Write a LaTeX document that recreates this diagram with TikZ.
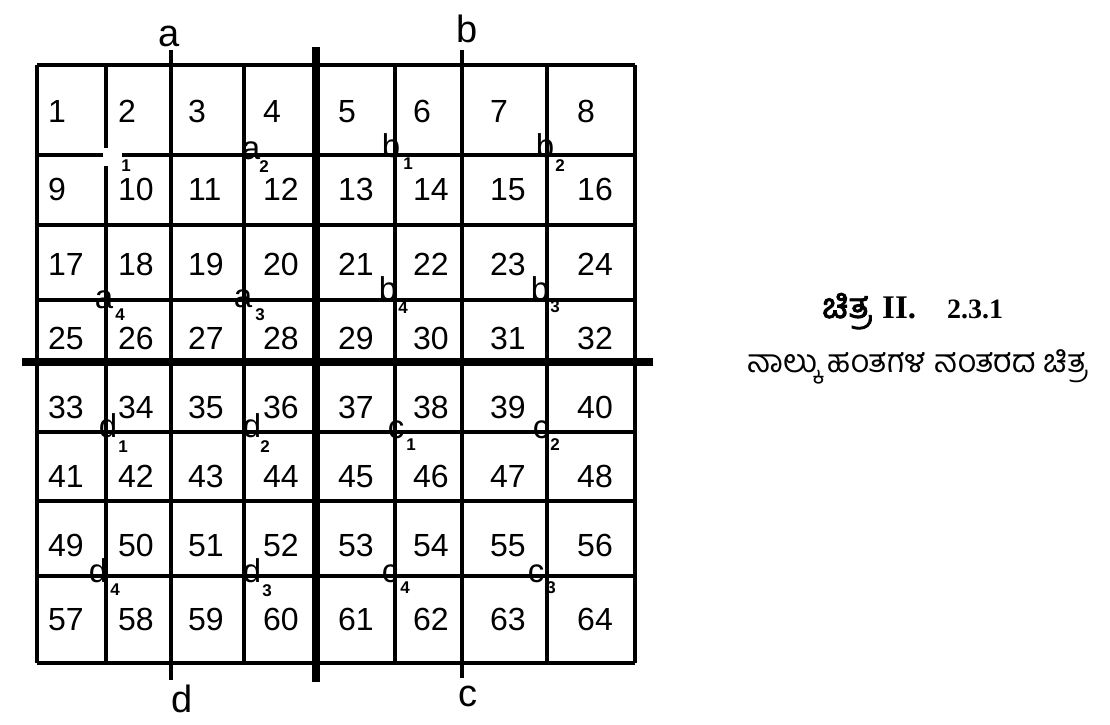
\documentclass[tikz,border=0pt]{standalone}
\usepackage{fontspec}
\setmainfont{Liberation Sans}
\newfontfamily\kn[Script=Kannada]{Hind Mysuru}
\newfontfamily\knb[Script=Kannada,FakeBold=2.5]{Hind Mysuru}
\newfontfamily\serifb{Liberation Serif}
\begin{document}
\begin{tikzpicture}[x=1pt,y=-1pt]
\tikzset{
  gridline/.style={line width=3.8pt},
  heavy/.style={line width=7.5pt},
  num/.style={inner sep=0pt, anchor=base west, font=\fontsize{32}{36}\selectfont},
  axislbl/.style={inner sep=0pt, font=\fontsize{38}{40}\selectfont},
  ptlbl/.style={inner sep=0pt, font=\fontsize{33}{34}\selectfont},
  sublbl/.style={inner sep=0pt, font=\bfseries\fontsize{17}{18}\selectfont},
}
\useasboundingbox (0,0) rectangle (1110,724);
\fill[white] (0,0) rectangle (1110,724);
% horizontal grid lines
\foreach \y in {65,225,300,432,501,576,663}
  \draw[gridline] (37,\y) -- (635,\y);
\draw[gridline] (37,155) -- (103,155);
\draw[gridline] (122,155) -- (635,155);
% vertical grid lines
\foreach \x in {37,244,395,547,635}
  \draw[gridline] (\x,65) -- (\x,663);
\draw[gridline] (106,65) -- (106,148);
\draw[gridline] (106,166) -- (106,663);
\draw[gridline] (171,50) -- (171,680);
\draw[gridline] (462,50) -- (462,678);
% heavy dividing lines
\draw[heavy] (316,47) -- (316,682);
\draw[heavy] (22,362) -- (653,362);
% cell numbers
\foreach \y [count=\r from 0] in {122,200,275,349,418,487,556,630} {
  \foreach \x [count=\c from 1] in {48,118,188,263,338,413,490,577} {
    \pgfmathtruncatemacro\n{\r*8+\c}
    \node[num] (n\n) at (\x,\y) {\n};
  }
}
% axis labels
\node[axislbl] (la) at (169,36) {a};
\node[axislbl] (lb) at (467,29) {b};
\node[axislbl] (ld) at (182,699) {d};
\node[axislbl] (lc) at (468,696) {c};
% intersection labels
\node[sublbl] (s1) at (126,166) {1};
\node[ptlbl] (pa2) at (251,151) {a}; \node[sublbl] (sa2) at (264,167) {2};
\node[ptlbl] (pb1) at (391,146) {b}; \node[sublbl] (sb1) at (408,164) {1};
\node[ptlbl] (pb2) at (545,146) {b}; \node[sublbl] (sb2) at (560,166) {2};
\node[ptlbl] (pa4) at (104,300) {a}; \node[sublbl] (sa4) at (120,315) {4};
\node[ptlbl] (pa3) at (243,299) {a}; \node[sublbl] (sa3) at (260,315) {3};
\node[ptlbl] (pb4) at (388,289) {b}; \node[sublbl] (sb4) at (403,308) {4};
\node[ptlbl] (pb3) at (540,289) {b}; \node[sublbl] (sb3) at (555,307) {3};
\node[ptlbl] (pd1) at (108,426) {d}; \node[sublbl] (sd1) at (123,447) {1};
\node[ptlbl] (pd2) at (252,426) {d}; \node[sublbl] (sd2) at (265,447) {2};
\node[ptlbl] (pc1) at (396,430) {c}; \node[sublbl] (sc1) at (411,445) {1};
\node[ptlbl] (pc2) at (541,430) {c}; \node[sublbl] (sc2) at (555,445) {2};
\node[ptlbl] (pd4) at (98,571) {d}; \node[sublbl] (sd4) at (115,590) {4};
\node[ptlbl] (pd3) at (252,571) {d}; \node[sublbl] (sd3) at (267,591) {3};
\node[ptlbl] (pc4) at (390,574) {c}; \node[sublbl] (sc4) at (405,588) {4};
\node[ptlbl] (pc3) at (536,574) {c}; \node[sublbl] (sc3) at (551,588) {3};
% caption
\node[inner sep=0pt, anchor=base west, font=\knb\fontsize{35}{36}\selectfont] (cap1) at (822,318) {ಚಿತ್ರ};
\node[inner sep=0pt, anchor=base west, font=\serifb\bfseries\fontsize{33}{34}\selectfont] (cap2) at (882,318) {II.};
\node[inner sep=0pt, anchor=base west, font=\serifb\bfseries\fontsize{28}{30}\selectfont] (cap3) at (947,318) {2.3.1};
\node[inner sep=0pt, anchor=base, font=\kn\fontsize{32}{34}\selectfont] (cap4) at (918,372) {ನಾಲ್ಕು ಹಂತಗಳ ನಂತರದ ಚಿತ್ರ};
\end{tikzpicture}
\end{document}
